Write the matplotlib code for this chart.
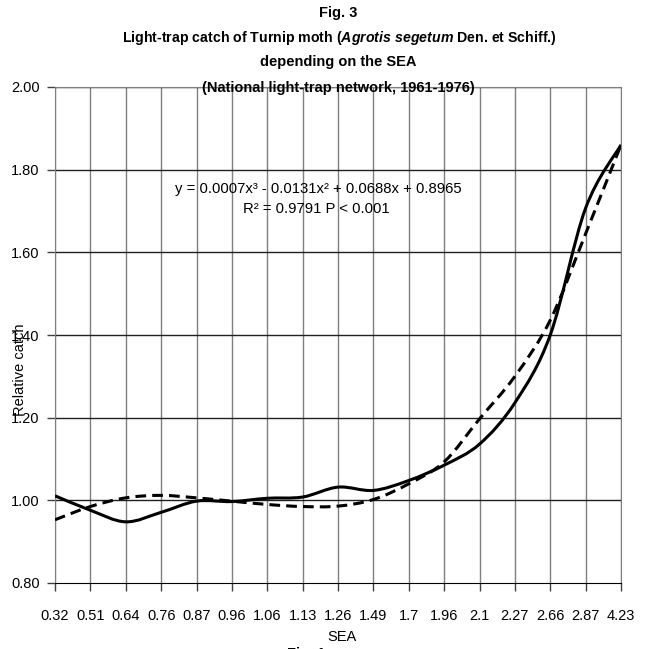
import numpy as np
import matplotlib
matplotlib.use('Agg')
import matplotlib.pyplot as plt
import matplotlib.patches as patches
import matplotlib.path as path

plt.rcParams['font.family'] = ['Liberation Sans', 'DejaVu Sans']
plt.rcParams['mathtext.fontset'] = 'custom'
plt.rcParams['mathtext.it'] = 'Liberation Sans:italic:bold'
plt.rcParams['mathtext.rm'] = 'Liberation Sans:bold'

# SEA categories on the x axis
sea = ['0.32', '0.51', '0.64', '0.76', '0.87', '0.96', '1.06', '1.13', '1.26',
       '1.49', '1.7', '1.96', '2.1', '2.27', '2.66', '2.87', '4.23']
# relative catch (solid line)
catch = [1.011, 0.976, 0.948, 0.971, 0.998, 0.997, 1.005, 1.008, 1.032,
         1.024, 1.048, 1.085, 1.136, 1.236, 1.400, 1.707, 1.860]
# fitted trend (dashed line)
trend = [0.953, 0.985, 1.006, 1.012, 1.006, 0.998, 0.990, 0.985, 0.986,
         1.002, 1.040, 1.093, 1.197, 1.300, 1.436, 1.645, 1.860]

y_ticks = [0.80, 1.00, 1.20, 1.40, 1.60, 1.80, 2.00]


def smooth_path(xs, ys):
    # catmull-rom style bezier, like excel "smoothed line"
    pts = np.column_stack([xs, ys])
    verts = [pts[0]]
    codes = [path.Path.MOVETO]
    n = len(pts)
    for i in range(n - 1):
        p0 = pts[max(i - 1, 0)]
        p1 = pts[i]
        p2 = pts[i + 1]
        p3 = pts[min(i + 2, n - 1)]
        c1 = p1 + (p2 - p0) / 6.0
        c2 = p2 - (p3 - p1) / 6.0
        verts += [c1, c2, p2]
        codes += [path.Path.CURVE4] * 3
    return path.Path(verts, codes)


fig = plt.figure(figsize=(6.46, 6.49), dpi=100)
ax = fig.add_axes([55 / 646, 1 - 583 / 649, 566 / 646, 496 / 649])

x = np.arange(len(sea))

ax.set_xlim(0, len(sea) - 1)
ax.set_ylim(0.80, 2.00)
ax.set_xticks(x)
ax.set_xticklabels(sea)
ax.set_yticks(y_ticks)
ax.set_yticklabels(['%.2f' % v for v in y_ticks])

for xi in x:
    ax.axvline(xi, color='#7f7f7f', lw=1.0, zorder=1)
for yv in y_ticks[1:]:
    ax.axhline(yv, color='#202020', lw=1.0, zorder=1)

for s in ['left', 'top', 'right']:
    ax.spines[s].set_color('#7f7f7f')
ax.spines['bottom'].set_color('black')
ax.tick_params(axis='both', direction='out', length=6, width=1, color='#404040',
               labelsize=10.5, pad=5)
ax.tick_params(axis='x', pad=13)

p1 = patches.PathPatch(smooth_path(x, catch), facecolor='none', edgecolor='black',
                       lw=2.2, zorder=3)
ax.add_patch(p1)
p2 = patches.PathPatch(smooth_path(x, trend), facecolor='none', edgecolor='black',
                       lw=2.2, linestyle=(0, (3.5, 2)), zorder=3)
ax.add_patch(p2)

ax.text(0.466, 0.795, 'y = 0.0007x³ - 0.0131x² + 0.0688x + 0.8965', transform=ax.transAxes,
        ha='center', va='center', fontsize=10.7)
ax.text(0.462, 0.755, 'R² = 0.9791 P < 0.001', transform=ax.transAxes,
        ha='center', va='center', fontsize=10.7)

fig.text(338 / 646, 1 - 13 / 649, 'Fig. 3', ha='center', va='center', fontsize=10.5,
         fontweight='bold')
fig.text(339 / 646, 1 - 38 / 649,
         r'Light-trap catch of Turnip moth ($\it{Agrotis\ segetum}$ Den. et Schiff.)',
         ha='center', va='center', fontsize=10.2, fontweight='bold')
fig.text(338 / 646, 1 - 62 / 649, 'depending on the SEA', ha='center', va='center',
         fontsize=10.5, fontweight='bold')
fig.text(338 / 646, 1 - 88 / 649, '(National light-trap network, 1961-1976)',
         ha='center', va='center', fontsize=10.5, fontweight='bold')

fig.text(20 / 646, 1 - 370 / 649, 'Relative catch', rotation=90, ha='center',
         va='center', fontsize=10.5)
fig.text(342 / 646, 1 - 637 / 649, 'SEA', ha='center', va='center', fontsize=10.5)
fig.text(287 / 646, 1 - 654 / 649, 'Fig. 1', ha='left', va='center', fontsize=10.5,
         fontweight='bold')

fig.savefig('out.png', dpi=100)
